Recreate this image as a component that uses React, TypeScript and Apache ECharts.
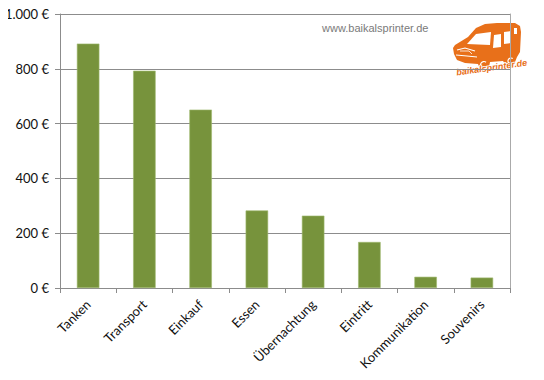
import React, { useEffect, useRef } from "react";
import * as echarts from "echarts";

const categories = ["Tanken", "Transport", "Einkauf", "Essen", "Übernachtung", "Eintritt", "Kommunikation", "Souvenirs"];
const costs = [892, 793, 651, 283, 264, 168, 41, 38];
const yTicks = [0, 200, 400, 600, 800, 1000];

const VAN_BODY =
  "M10,25 L23,17 L31,8 L40,4 L52,3 L70,3 L75,6 L76,12 L75,32 L72,37 L70,42 L66,46 L61,45 L58,41 L45,42 L44,47 L40,50 L35,49 L33,44 L20,43 L12,40 L9,34 L8,28 Z";
echarts.graphic.registerShape("vanBody", echarts.graphic.extendPath(VAN_BODY, {}) as any);

function fmt(v: number) {
  const s = String(v);
  const t = s.length > 3 ? s.slice(0, s.length - 3) + "." + s.slice(s.length - 3) : s;
  return t + " €";
}

export default function App() {
  const ref = useRef<HTMLDivElement>(null);
  useEffect(() => {
    const chart = echarts.init(ref.current!, null, { renderer: "svg" });
    const font = "Lato, 'Open Sans', sans-serif";
    const orange = "#E8701A";
    const lx = 445, ly = 20;
    chart.setOption({
      animation: false,
      backgroundColor: "#ffffff",
      grid: { left: 60, right: 34, top: 14, bottom: 92, containLabel: false },
      xAxis: {
        type: "category",
        data: categories,
        boundaryGap: true,
        axisLine: { show: true, lineStyle: { color: "#8c8c8c", width: 1 } },
        axisTick: { show: true, alignWithLabel: false, length: 5, lineStyle: { color: "#8c8c8c" } },
        axisLabel: { rotate: 45, interval: 0, color: "#111", fontSize: 13, fontFamily: font, margin: 14 },
      },
      yAxis: [
        {
          type: "value",
          min: yTicks[0],
          max: yTicks[yTicks.length - 1],
          interval: 200,
          axisLine: { show: true, lineStyle: { color: "#8c8c8c", width: 1 } },
          axisTick: { show: true, length: 5, lineStyle: { color: "#8c8c8c" } },
          axisLabel: { color: "#111", fontSize: 13, fontFamily: font, margin: 11, formatter: (v: number) => fmt(v) },
          splitLine: { show: true, lineStyle: { color: "#8c8c8c", width: 1 } },
        },
        {
          type: "value",
          position: "right",
          min: 0,
          max: 1000,
          interval: 200,
          axisLine: { show: true, lineStyle: { color: "#aaaaaa", width: 1 } },
          axisTick: { show: false },
          axisLabel: { show: false },
          splitLine: { show: false },
        },
      ],
      series: [
        {
          type: "bar",
          data: costs,
          barWidth: "40%",
          itemStyle: { color: "#77933C", borderColor: "#9fb96e", borderWidth: 0.6 },
        },
      ],
      graphic: [
        {
          type: "text",
          left: 322,
          top: 22,
          style: { text: "www.baikalsprinter.de", fill: "#7a7a7a", font: "11px 'Liberation Sans', Arial, sans-serif" },
          z: 10,
        },
        {
          type: "group",
          x: lx,
          y: ly,
          z: 10,
          children: [
            { type: "vanBody", x: 0, y: 0, style: { fill: orange } },
            { type: "polygon", shape: { points: [[22, 24], [31, 14], [46, 12], [45, 25]] }, style: { fill: "#fff" } },
            { type: "polygon", shape: { points: [[49, 15], [56, 14], [56, 27], [48, 28]] }, style: { fill: "#fff" } },
            { type: "polygon", shape: { points: [[59, 12], [66, 11], [66, 23], [59, 24]] }, style: { fill: "#fff" } },
            { type: "polygon", shape: { points: [[69, 8], [72, 8], [72, 14], [69, 14]] }, style: { fill: "#fff" } },
            { type: "polyline", shape: { points: [[12, 30], [20, 28], [30, 31]] }, style: { stroke: "#fff", lineWidth: 1.2, fill: null } },
            { type: "polyline", shape: { points: [[11, 35], [22, 36], [32, 37]] }, style: { stroke: "#fff", lineWidth: 1, fill: null } },
            { type: "polyline", shape: { points: [[15, 31], [24, 31], [27, 34]] }, style: { stroke: "#fff", lineWidth: 0.8, fill: null } },
            { type: "arc", shape: { cx: 39, cy: 45, r: 3.5, startAngle: 0.3, endAngle: Math.PI * 1.7 }, style: { stroke: "#fff", lineWidth: 1.2, fill: null } },
            { type: "arc", shape: { cx: 66, cy: 41, r: 3, startAngle: 0.3, endAngle: Math.PI * 1.7 }, style: { stroke: "#fff", lineWidth: 1.2, fill: null } },
            {
              type: "text",
              x: 12,
              y: 57,
              rotation: 0.14,
              style: {
                text: "baikalsprinter.de",
                fill: orange,
                stroke: "#fff",
                lineWidth: 1.5,
                font: "italic bold 9px 'Liberation Sans', sans-serif",
                verticalAlign: "bottom",
              },
            },
          ],
        },
      ],
    });
    return () => chart.dispose();
  }, []);
  return <div ref={ref} style={{ width: 544, height: 380, marginLeft: -8, marginTop: -8 }} />;
}
